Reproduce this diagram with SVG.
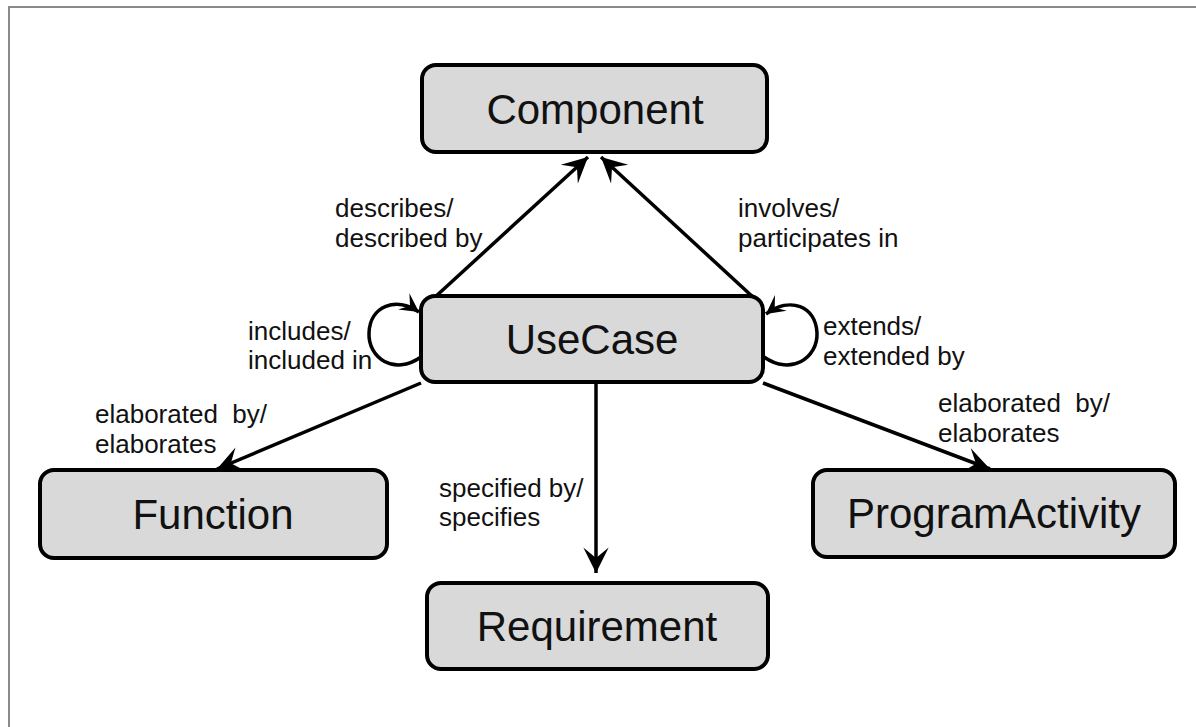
<svg xmlns="http://www.w3.org/2000/svg" width="1196" height="727" viewBox="0 0 1196 727">
<style>
.node rect{fill:#d9d9d9;stroke:#000;stroke-width:4}
.node text{font-family:"Liberation Sans",Arial,sans-serif;font-size:42px;fill:#111;text-anchor:middle}
.lbl{font-family:"Liberation Sans",Arial,sans-serif;font-size:26px;fill:#111}
.edge{fill:none;stroke:#000;stroke-width:3.5}
</style>
<defs>
<marker id="ah" markerUnits="userSpaceOnUse" markerWidth="30" markerHeight="30" viewBox="-24 -13 26 26" refX="0" refY="0" orient="auto">
<path d="M0,0 L-22,-11 L-13,0 L-22,11 Z" fill="#000"/>
</marker>
<marker id="ahs" markerUnits="userSpaceOnUse" markerWidth="24" markerHeight="24" viewBox="-20 -11 22 22" refX="0" refY="0" orient="auto">
<path d="M0,0 L-17,-9 L-10,0 L-17,9 Z" fill="#000"/>
</marker>
</defs>
<rect x="0" y="0" width="1196" height="727" fill="#fff"/>
<path d="M9,727 L9,7 L1196,7" fill="none" stroke="#8a8a8a" stroke-width="2"/>
<g id="connectors">
<line class="edge" x1="434" y1="298" x2="588" y2="157" marker-end="url(#ah)"/>
<line class="edge" x1="754" y1="298" x2="601" y2="157" marker-end="url(#ah)"/>
<line class="edge" x1="421" y1="383" x2="217" y2="469" marker-end="url(#ah)"/>
<line class="edge" x1="763" y1="383" x2="990" y2="469" marker-end="url(#ah)"/>
<line class="edge" x1="596" y1="383" x2="596" y2="573" marker-end="url(#ah)"/>
<path class="edge" d="M421,357 C394,376 368,358 369,333 C370,306 396,296 419,312" marker-end="url(#ahs)"/>
<path class="edge" d="M764,357 C791,376 818,358 817,333 C816,306 790,296 766,314" marker-end="url(#ahs)"/>
</g>
<g id="labels">
<text class="lbl" x="335" y="217">describes/</text>
<text class="lbl" x="335" y="247">described by</text>
<text class="lbl" x="738" y="217">involves/</text>
<text class="lbl" x="738" y="247">participates in</text>
<text class="lbl" x="248" y="340">includes/</text>
<text class="lbl" x="248" y="369">included in</text>
<text class="lbl" x="823" y="335">extends/</text>
<text class="lbl" x="823" y="365">extended by</text>
<text class="lbl" x="95" y="423" xml:space="preserve">elaborated  by/</text>
<text class="lbl" x="95" y="453">elaborates</text>
<text class="lbl" x="938" y="412" xml:space="preserve">elaborated  by/</text>
<text class="lbl" x="938" y="442">elaborates</text>
<text class="lbl" x="439" y="497">specified by/</text>
<text class="lbl" x="439" y="526">specifies</text>
</g>
<g id="component" class="node"><rect x="422" y="65" width="345" height="87" rx="14"/><text x="595" y="124">Component</text></g>
<g id="usecase" class="node"><rect x="421" y="296" width="342" height="86" rx="14"/><text x="592" y="354">UseCase</text></g>
<g id="function" class="node"><rect x="40" y="470" width="347" height="88" rx="14"/><text x="213" y="529">Function</text></g>
<g id="requirement" class="node"><rect x="427" y="583" width="341" height="86" rx="14"/><text x="597" y="641">Requirement</text></g>
<g id="programactivity" class="node"><rect x="813" y="470" width="362" height="87" rx="14"/><text x="994" y="528">ProgramActivity</text></g>
</svg>
